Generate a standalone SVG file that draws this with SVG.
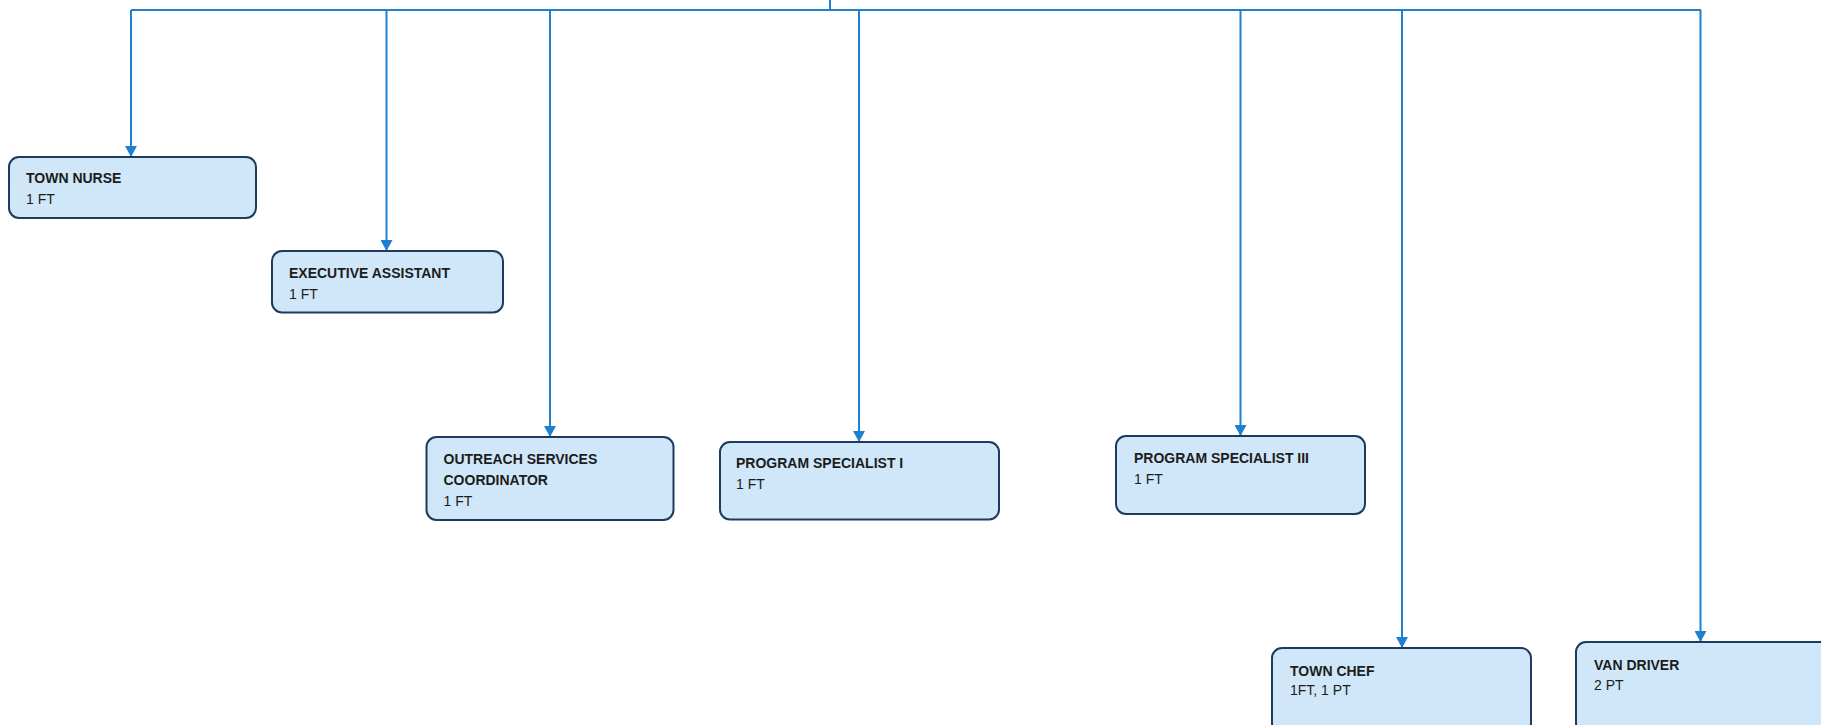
<svg xmlns="http://www.w3.org/2000/svg" width="1821" height="725" viewBox="0 0 1821 725">
  <defs>
    <marker id="arrow" markerUnits="userSpaceOnUse" markerWidth="13" markerHeight="12" refX="11" refY="6" orient="auto">
      <path d="M0,0 L11,6 L0,12 Z" fill="#1f80d0"/>
    </marker>
    <style>
      .box { fill: #cfe7f8; stroke: #1e3a5c; stroke-width: 2; }
      .lbl { font-family: "Liberation Sans", Arial, sans-serif; font-size: 14px; fill: #1c1c1c; }
      .b { font-weight: bold; }
      .wire { fill: none; stroke: #1f80d0; stroke-width: 2; }
    </style>
  </defs>
  <rect width="1821" height="725" fill="#ffffff"/>

  <!-- connectors: trunk, bus and one drop per position -->
  <g id="connectors">
    <path class="wire" d="M830,0 V10"/>
    <path class="wire" d="M131,10 H1701"/>
    <path class="wire" d="M131,10 V157" marker-end="url(#arrow)"/>
    <path class="wire" d="M386.5,10 V251" marker-end="url(#arrow)"/>
    <path class="wire" d="M550,10 V437" marker-end="url(#arrow)"/>
    <path class="wire" d="M859,10 V442" marker-end="url(#arrow)"/>
    <path class="wire" d="M1240.5,10 V436" marker-end="url(#arrow)"/>
    <path class="wire" d="M1402,10 V648" marker-end="url(#arrow)"/>
    <path class="wire" d="M1700.5,10 V642" marker-end="url(#arrow)"/>
  </g>

  <g id="town-nurse">
    <rect class="box" x="9" y="157" width="247" height="61" rx="10"/>
    <text class="lbl b" x="26" y="183">TOWN NURSE</text>
    <text class="lbl" x="26" y="204">1 FT</text>
  </g>

  <g id="executive-assistant">
    <rect class="box" x="272" y="251" width="231" height="61.5" rx="10"/>
    <text class="lbl b" x="289" y="277.5">EXECUTIVE ASSISTANT</text>
    <text class="lbl" x="289" y="298.5">1 FT</text>
  </g>

  <g id="outreach-services-coordinator">
    <rect class="box" x="426.5" y="437" width="247" height="83" rx="10"/>
    <text class="lbl b" x="443.5" y="464">OUTREACH SERVICES</text>
    <text class="lbl b" x="443.5" y="485">COORDINATOR</text>
    <text class="lbl" x="443.5" y="506">1 FT</text>
  </g>

  <g id="program-specialist-i">
    <rect class="box" x="720" y="442" width="279" height="77.5" rx="10"/>
    <text class="lbl b" x="736" y="468">PROGRAM SPECIALIST I</text>
    <text class="lbl" x="736" y="488.5">1 FT</text>
  </g>

  <g id="program-specialist-iii">
    <rect class="box" x="1116" y="436" width="249" height="78" rx="10"/>
    <text class="lbl b" x="1134" y="463">PROGRAM SPECIALIST III</text>
    <text class="lbl" x="1134" y="483.5">1 FT</text>
  </g>

  <g id="town-chef">
    <rect class="box" x="1272" y="648" width="259" height="85" rx="10"/>
    <text class="lbl b" x="1290" y="676">TOWN CHEF</text>
    <text class="lbl" x="1290" y="695">1FT, 1 PT</text>
  </g>

  <g id="van-driver">
    <rect class="box" x="1576" y="642" width="255" height="91" rx="10"/>
    <text class="lbl b" x="1594" y="670">VAN DRIVER</text>
    <text class="lbl" x="1594" y="690">2 PT</text>
  </g>
</svg>
